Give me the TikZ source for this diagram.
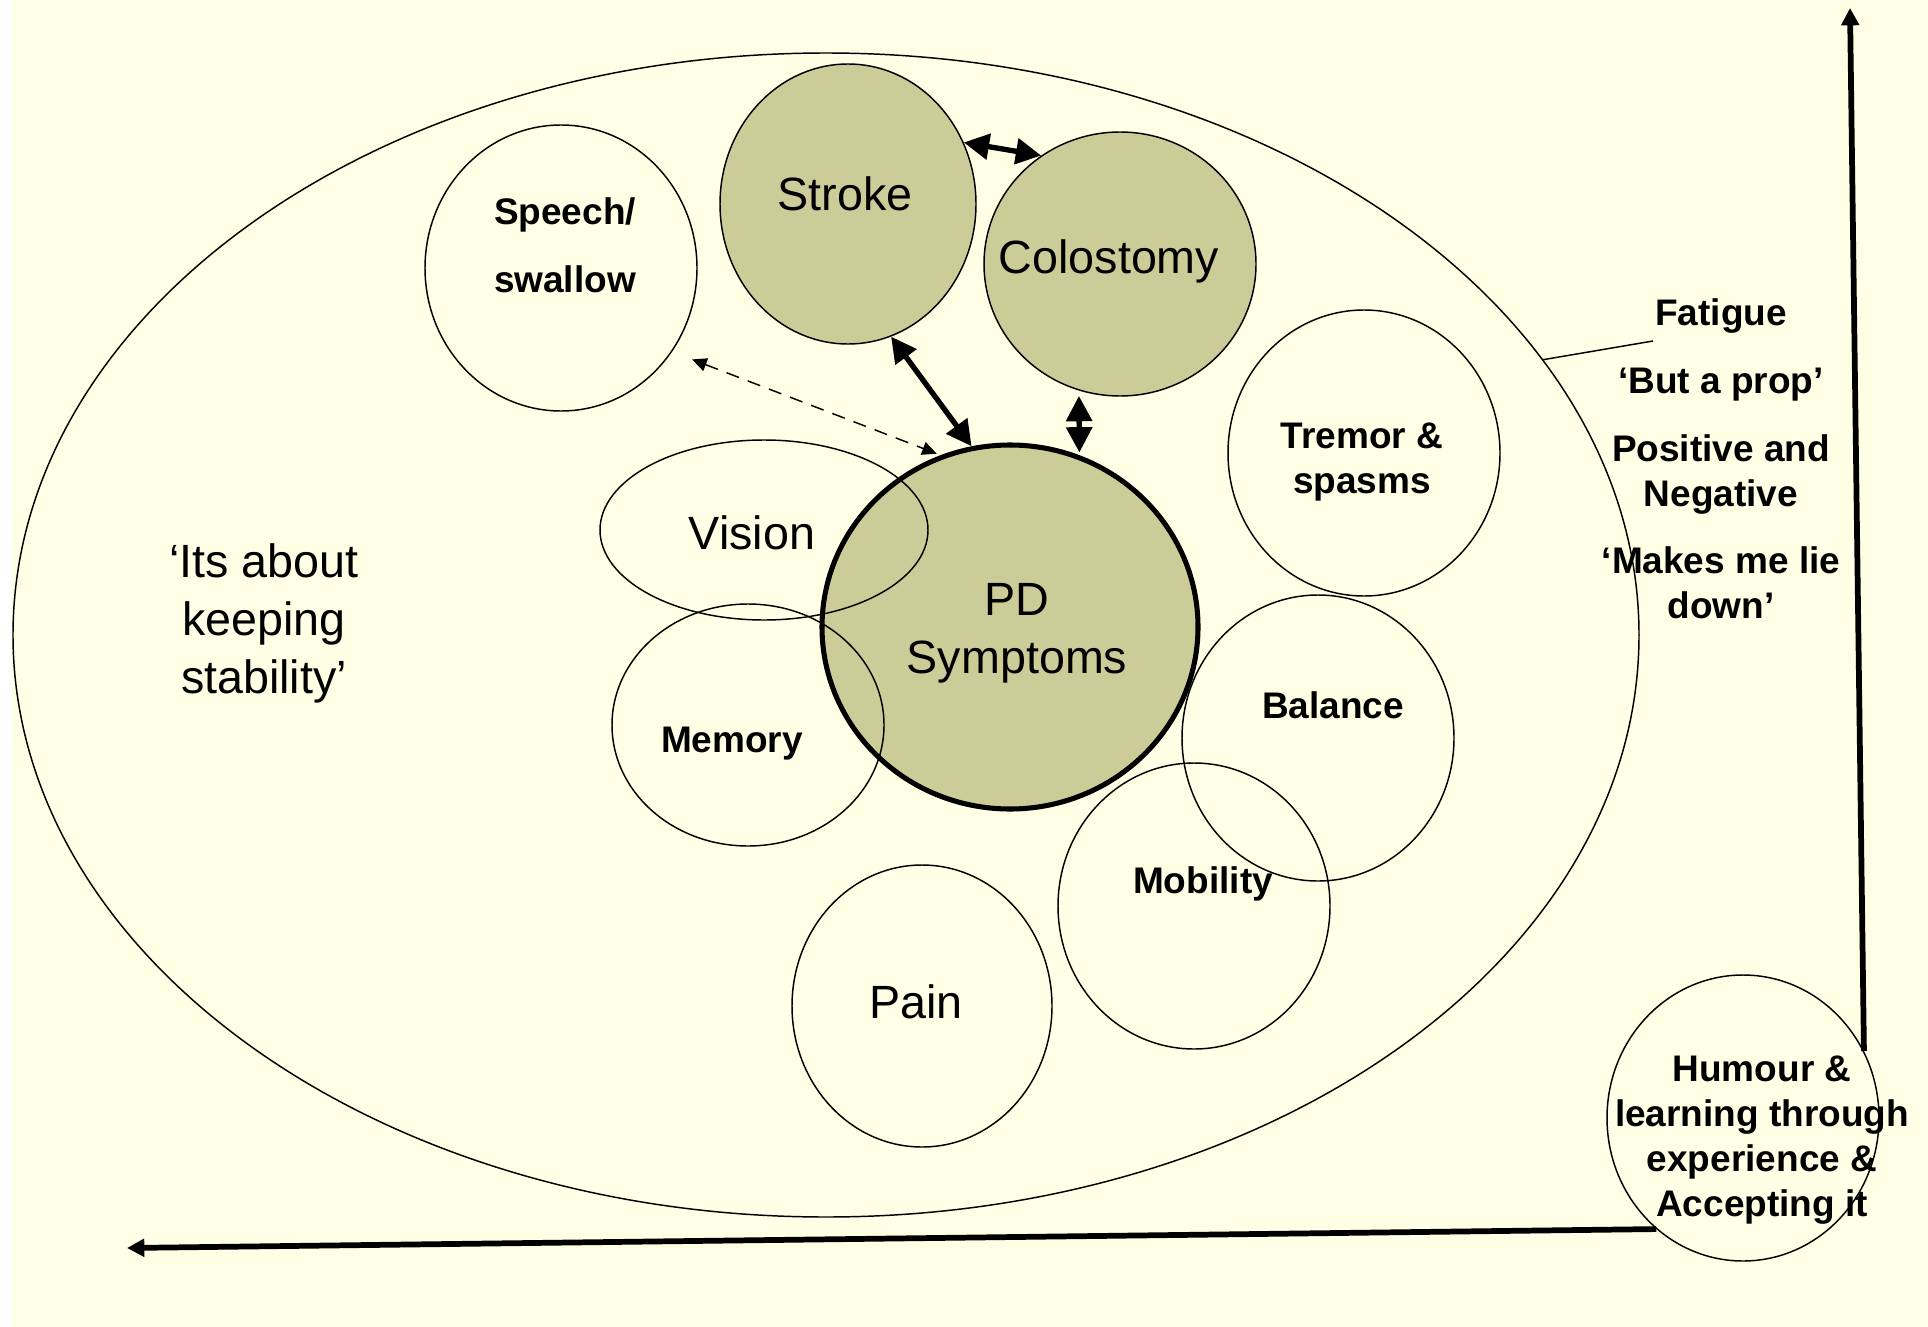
\documentclass[tikz,border=0pt]{standalone}
\usepackage{fontspec}
\setmainfont{Liberation Sans}
\usetikzlibrary{shapes.geometric,arrows.meta}
\definecolor{bgcream}{RGB}{255,255,229}
\definecolor{olivefill}{RGB}{204,204,153}
\begin{document}
\begin{tikzpicture}[x=0.75pt,y=-0.75pt,
  circ/.style={ellipse,draw,line width=1.1pt,inner sep=0pt},
  filled/.style={circ,fill=olivefill},
  reg/.style={font=\fontsize{35}{43.5}\selectfont,align=center,inner sep=0pt},
  bld/.style={font=\fontsize{27.75}{33.75}\selectfont\bfseries,align=center,inner sep=0pt},
  dbl/.style={{Triangle[length=19pt,width=19pt]}-{Triangle[length=19pt,width=19pt]},line width=4pt},
  axisarrow/.style={-{Triangle[length=13pt,width=13pt]},line width=4.3pt},
  dasharrow/.style={{Triangle[length=11pt,width=10pt]}-{Triangle[length=11pt,width=10pt]},line width=1.1pt,dash pattern=on 10pt off 7pt},
]
\useasboundingbox (0,0) rectangle (1928,1327);
\fill[white] (0,0) rectangle (1928,1327);
\fill[bgcream] (12,0) rectangle (1928,1327);

% big ellipse
\node[circ, minimum width=1219.5pt, minimum height=873pt] (big) at (826,635) {};

% circles
\node[circ, minimum width=204pt, minimum height=214.5pt] (sp) at (561,268) {};
\node[filled, minimum width=192pt, minimum height=210pt] (str) at (848,204) {};
\node[filled, minimum width=204pt, minimum height=198pt] (col) at (1120,264) {};
\node[circ, minimum width=204pt, minimum height=214.5pt] (trem) at (1364,453) {};
\node[circ, minimum width=204pt, minimum height=214.5pt] (mob) at (1194,906) {};
\node[circ, minimum width=195pt, minimum height=211.5pt] (pain) at (922,1006) {};
\node[ellipse, draw, line width=3.8pt, fill=olivefill, inner sep=0pt, minimum width=282pt, minimum height=273pt] (pd) at (1010,627) {};
\node[circ, minimum width=204pt, minimum height=214.5pt] (bal) at (1318,738) {};
\node[circ, minimum width=246pt, minimum height=135pt] (vis) at (764,530) {};
\node[circ, minimum width=204pt, minimum height=181.5pt] (mem) at (748,725) {};
\node[circ, minimum width=204pt, minimum height=214.5pt] (hum) at (1743,1118) {};

% texts
\node[bld] (spT) at (565,245) {Speech/\\[17pt]swallow};
\node[reg] (strT) at (845,194) {Stroke};
\node[reg] (colT) at (1109,261) {Colostomy};
\node[bld] (tremT) at (1362,462) {Tremor \&\\spasms};
\node[reg] (visT) at (752,533) {Vision};
\node[reg] (pdT) at (1017,633) {PD\\Symptoms};
\node[bld] (balT) at (1333,705) {Balance};
\node[bld] (memT) at (732,744) {Memory};
\node[bld] (mobT) at (1203,884) {Mobility};
\node[reg] (painT) at (916,1002) {Pain};
\node[reg] (stabT) at (264,623) {‘Its about\\keeping\\stability’};
\node[bld] (fatT) at (1721,459) {Fatigue\\[17pt]‘But a prop’\\[17pt]Positive and\\Negative\\[17pt]‘Makes me lie\\down’};
\node[bld] (humT) at (1762,1140) {Humour \&\\learning through\\experience \&\\Accepting it};

% connectors
\coordinate (fatL) at (1653,341);
\draw[line width=1.1pt] (big.21.3) -- (fatL);
\draw[dbl] (str.28) -- (col.126);
\draw[dbl] (str.288) -- (pd.102.5);
\draw[dbl, shorten <=4pt, shorten >=2pt] (col.252.6) -- (pd.68.8);
\draw[dasharrow, shorten <=16pt, shorten >=3pt] (sp.323.4) -- (pd.112.6);

\coordinate (vtop) at (1850,8);
\coordinate (hleft) at (127,1248);
\draw[axisarrow] (hum.29) -- (vtop);
\draw[axisarrow] (hum.232) -- (hleft);
\end{tikzpicture}
\end{document}
